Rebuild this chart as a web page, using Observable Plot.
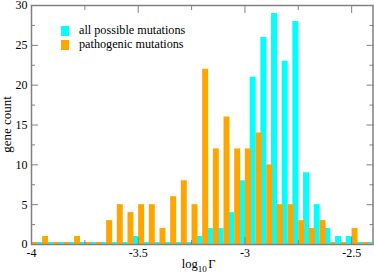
<!DOCTYPE html>
<html><head><meta charset="utf-8">
<script src="https://cdn.jsdelivr.net/npm/d3@7"></script>
<script src="https://cdn.jsdelivr.net/npm/@observablehq/plot@0.6"></script>
<style>
html,body{margin:0;padding:0;background:#fff;}
#chart{position:relative;width:374px;height:276px;}
svg{display:block;}
</style></head><body><div id="chart"></div>
<script>
// histogram bins (start of each bin, log10 Γ)
const binStarts = [-4.00,-3.95,-3.90,-3.85,-3.80,-3.75,-3.70,-3.65,-3.60,-3.55,-3.50,-3.45,-3.40,-3.35,-3.30,-3.25,
                   -3.20,-3.15,-3.10,-3.05,-3.00,-2.95,-2.90,-2.85,-2.80,-2.75,-2.70,-2.65,-2.60,-2.55,-2.50,-2.45];
const allPossible = [0,0,0,0,0,0,0,0,0,1,0,0,0,0,0,1,2,2,4,8,21,26,29,23,28,9,5,2,1,1,0,0];
const pathogenic  = [0,1,0,0,1,0,0,3,5,4,5,5,2,6,8,5,22,12,16,12,12,14,10,5,5,3,2,3,0,0,2,0];
const seriesNames = ["all possible mutations", "pathogenic mutations"];
const seriesColors = ["#00ffff", "#ffa500"];
const xMajor = [-4, -3.5, -3, -2.5];
const xMinor = [-3.75, -3.25, -2.75];
const yMajor = [0, 5, 10, 15, 20, 25, 30];
const yMinor = [2.5, 7.5, 12.5, 17.5, 22.5, 27.5];

const rows = binStarts.map((s, i) => ({start: s, all: allPossible[i], path: pathogenic[i]}));
const cyanX1 = d => d.start + 0.0245, cyanX2 = d => Math.min(d.start + 0.0525, -2.4);
const orX1 = d => d.start + 0.002, orX2 = d => d.start + 0.030;
const tickColor = "#808080";

const plot = Plot.plot({
  width: 374, height: 276,
  marginLeft: 31, marginRight: 1.5, marginTop: 5, marginBottom: 32,
  style: {fontFamily: "'Liberation Serif', 'Times New Roman', serif", fontSize: "12px", background: "white", color: "black"},
  x: {domain: [-4, -2.4]},
  y: {domain: [0, 30]},
  marks: [
    Plot.rect(rows, {x1: cyanX1, x2: cyanX2, y1: 0, y2: 0, insetTop: -2, fill: seriesColors[0]}),
    Plot.rect(rows, {x1: orX1, x2: orX2, y1: 0, y2: 0, insetTop: -2, fill: seriesColors[1]}),
    Plot.rect(rows, {x1: cyanX1, x2: cyanX2, y1: 0, y2: "all", fill: seriesColors[0]}),
    Plot.rect(rows, {x1: orX1, x2: orX2, y1: 0, y2: "path", fill: seriesColors[1]}),
    Plot.frame({stroke: tickColor, strokeWidth: 1.5}),
    // tick labels
    Plot.axisX(xMajor, {anchor: "bottom", tickSize: 0, tickPadding: 3.5, tickFormat: d => String(d), label: null, fill: "black"}),
    Plot.axisY(yMajor, {anchor: "left", tickSize: 0, tickPadding: 4, tickFormat: d => String(d), label: null, fill: "black"}),
    // inward ticks
    Plot.axisX(xMajor, {anchor: "bottom", tickSize: -7, fill: "none", stroke: tickColor, label: null}),
    Plot.axisX(xMinor, {anchor: "bottom", tickSize: -4, fill: "none", stroke: tickColor, label: null}),
    Plot.axisX(xMajor, {anchor: "top", tickSize: -7, fill: "none", stroke: tickColor, label: null}),
    Plot.axisX(xMinor, {anchor: "top", tickSize: -4, fill: "none", stroke: tickColor, label: null}),
    Plot.axisY(yMajor, {anchor: "left", tickSize: -7, fill: "none", stroke: tickColor, label: null}),
    Plot.axisY(yMinor, {anchor: "left", tickSize: -4, fill: "none", stroke: tickColor, label: null}),
    Plot.axisY(yMajor, {anchor: "right", tickSize: -7, fill: "none", stroke: tickColor, label: null}),
    Plot.axisY(yMinor, {anchor: "right", tickSize: -4, fill: "none", stroke: tickColor, label: null})
  ]
});
document.getElementById("chart").appendChild(plot);

const svg = d3.select(plot);
const font = "'Liberation Serif', 'Times New Roman', serif";
// axis labels
const xl = svg.append("text").attr("x", 181.7).attr("y", 268.3).attr("text-anchor", "start")
  .attr("font-family", font).attr("font-size", 12.5).attr("fill", "black");
xl.append("tspan").text("log");
xl.append("tspan").attr("font-size", 9).attr("dy", 3.4).text("10");
xl.append("tspan").attr("dy", -3.4).attr("dx", 1.5).text("Γ");
svg.append("text").attr("transform", "translate(10.5,124.5) rotate(-90)")
  .attr("text-anchor", "middle").attr("font-family", font).attr("font-size", 13)
  .attr("fill", "black").text("gene count");
// legend
const legendY = [26, 40];
seriesNames.forEach((name, i) => {
  svg.append("rect").attr("x", 61).attr("y", legendY[i]).attr("width", 8).attr("height", 10).attr("fill", seriesColors[i]);
  svg.append("text").attr("x", 79).attr("y", legendY[i] + 8.2).attr("text-anchor", "start")
    .attr("font-family", font).attr("font-size", 12.2).attr("fill", "black").text(name);
});
</script></body></html>
